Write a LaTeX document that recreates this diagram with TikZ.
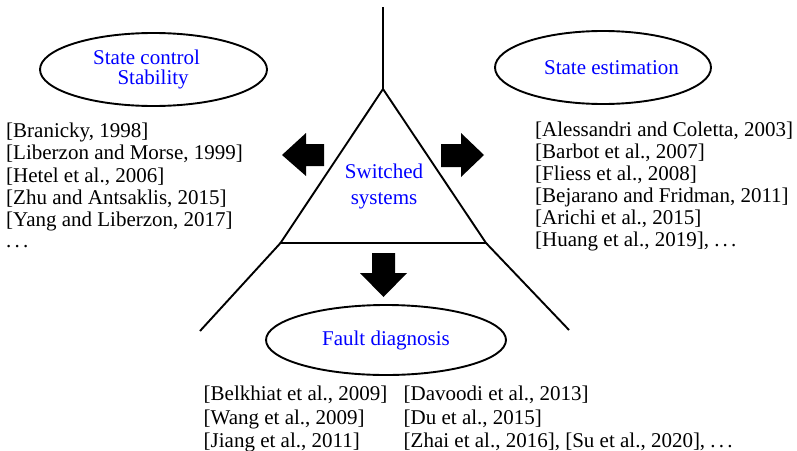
\documentclass[tikz,border=0pt]{standalone}
\usepackage{fontspec}
\setmainfont{Liberation Serif}
\usetikzlibrary{shapes.geometric}
\newcommand{\mydots}{.\kern3.2pt.\kern3.2pt.}
\begin{document}
\begin{tikzpicture}[x=1pt,y=-1pt,
  ln/.style={line width=1.9pt},
  ell/.style={draw, ellipse, line width=1.9pt, inner sep=0pt, text=blue, font=\fontsize{21}{20}\selectfont},
  ref/.style={anchor=base west, inner sep=0pt, font=\fontsize{21}{22}\selectfont},
  blk/.style={fill=black}]
\useasboundingbox (0,0) rectangle (797,450);

% frame lines
\coordinate (top) at (383,7);
\coordinate (apex) at (383,89);
\coordinate (bl) at (280.5,243);
\coordinate (br) at (486,243);
\coordinate (el) at (200,331);
\coordinate (er) at (569,330);
\draw[ln] (top) -- (apex);
\draw[ln] (apex) -- (bl) -- (br) -- cycle;
\draw[ln] (bl) -- (el);
\draw[ln] (br) -- (er);

% centre text
\node[inner sep=0pt, text=blue, align=center, font=\fontsize{21}{26.5}\selectfont] (ss) at (384,186.4) {Switched\\systems};

% block arrows
\fill[blk] (282,155) -- (306,133) -- (306,144) -- (324,144) -- (324,166) -- (306,166) -- (306,176) -- cycle;
\fill[blk] (484,155) -- (461,133) -- (461,144) -- (441,144) -- (441,167) -- (461,167) -- (461,177) -- cycle;
\fill[blk] (383.5,297) -- (360,273) -- (372,273) -- (372,253) -- (395,253) -- (395,273) -- (407,273) -- cycle;

% ellipses
\node[ell, minimum width=227pt, minimum height=73pt, align=left] (sc) at (153.5,69.5) {\makebox[120.6pt][l]{State control}\\\hspace*{24.3pt}Stability};
\node[ell, inner xsep=-6pt, minimum width=216pt, minimum height=73pt] (se) at (603,67.5) {\hspace*{17pt}State estimation};
\node[ell, minimum width=240pt, minimum height=70pt] (fd) at (386,340) {Fault diagnosis};

% left references
\node[ref] (l1) at (6,137.7) {[Branicky, 1998]};
\node[ref] (l2) at (6,159.9) {[Liberzon and Morse, 1999]};
\node[ref] (l3) at (6,182.1) {[Hetel et al., 2006]};
\node[ref] (l4) at (6,204.3) {[Zhu and Antsaklis, 2015]};
\node[ref] (l5) at (6,226.5) {[Yang and Liberzon, 2017]};
\node[ref] (l6) at (6,247) {\mydots};

% right references
\node[ref] (r1) at (535,136.7) {[Alessandri and Coletta, 2003]};
\node[ref] (r2) at (535,158.7) {[Barbot et al., 2007]};
\node[ref] (r3) at (535,180.7) {[Fliess et al., 2008]};
\node[ref] (r4) at (535,202.7) {[Bejarano and Fridman, 2011]};
\node[ref] (r5) at (535,224.7) {[Arichi et al., 2015]};
\node[ref] (r6) at (535,246.7) {[Huang et al., 2019], \mydots};

% bottom references
\node[ref] (b1) at (203.5,400) {[Belkhiat et al., 2009]};
\node[ref] (b2) at (203.5,424) {[Wang et al., 2009]};
\node[ref] (b3) at (203.5,447) {[Jiang et al., 2011]};
\node[ref] (b4) at (403.5,400) {[Davoodi et al., 2013]};
\node[ref] (b5) at (403.5,424) {[Du et al., 2015]};
\node[ref] (b6) at (403.5,447) {[Zhai et al., 2016], [Su et al., 2020], \mydots};
\end{tikzpicture}
\end{document}
